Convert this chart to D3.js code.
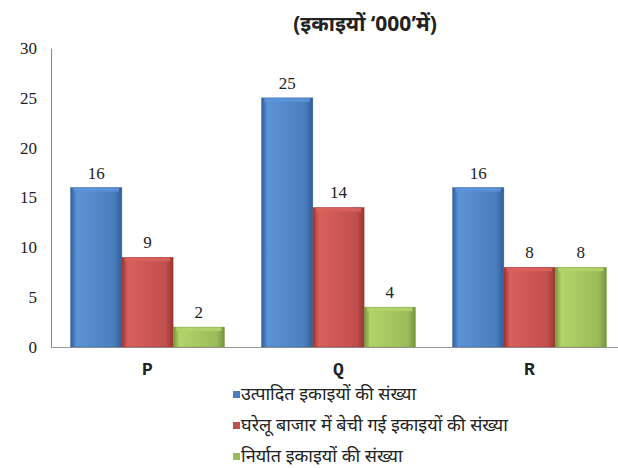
<!DOCTYPE html>
<html><head><meta charset="utf-8">
<script src="https://cdn.jsdelivr.net/npm/d3@7"></script>
<style>
body{margin:0;background:#fff}svg{display:block}
.serif{font-family:"Liberation Serif","DejaVu Serif",serif !important}
.mono{font-family:"Liberation Mono","DejaVu Sans Mono",monospace !important}
.deva{font-family:"Noto Sans","DejaVu Sans",sans-serif}
</style>
</head><body>
<svg id="c" width="618" height="468"></svg>
<script>
const categories = ["P", "Q", "R"];
const seriesNames = ["उत्पादित इकाइयों की संख्या", "घरेलू बाजार में बेची गई इकाइयों की संख्या", "निर्यात इकाइयों की संख्या"];
const produced = [16, 25, 16];
const domestic = [9, 14, 8];
const exported = [2, 4, 8];
const yTicks = [0, 5, 10, 15, 20, 25, 30];
const title = "(इकाइयों ‘000’में)";
const colors = ["#4a7ebb", "#c0504d", "#9bbb59"];
const dark = ["#2f5d99", "#9a3532", "#76923c"];
const light = ["#5b93d8", "#d9605c", "#b3d36a"];

const series = [produced, domestic, exported];
const svg = d3.select("#c");
const defs = svg.append("defs");
colors.forEach((c, i) => {
  const g = defs.append("linearGradient").attr("id", "g" + i).attr("x1", 0).attr("x2", 1).attr("y1", 0).attr("y2", 0);
  g.append("stop").attr("offset", "0%").attr("stop-color", dark[i]);
  g.append("stop").attr("offset", "12%").attr("stop-color", light[i]);
  g.append("stop").attr("offset", "85%").attr("stop-color", c);
  g.append("stop").attr("offset", "100%").attr("stop-color", dark[i]);
});

const y = d3.scaleLinear().domain([0, 30]).range([347, 48]);
const x = d3.scaleBand().domain(categories).range([52, 625]).paddingInner(0.194).paddingOuter(0.097);
const xs = d3.scaleBand().domain([0, 1, 2]).range([0, x.bandwidth()]);

// title
svg.append("text").attr("class", "deva").attr("x", 365).attr("y", 31).attr("text-anchor", "middle")
  .attr("font-weight", "bold").attr("font-size", 21).attr("fill", "#222").text(title);

// y axis
const ya = svg.append("g").attr("transform", "translate(51,0)")
  .call(d3.axisLeft(y).tickValues(yTicks).tickSize(0).tickPadding(14));
ya.attr("font-family", null).attr("font-size", null);
ya.select(".domain").attr("stroke", "#888");
ya.selectAll("text").attr("class", "serif").attr("font-size", 17).attr("fill", "#222");

// x axis
const xa = svg.append("g").attr("transform", "translate(0,347)")
  .call(d3.axisBottom(x).tickSize(0).tickPadding(15));
xa.attr("font-family", null).attr("font-size", null);
xa.select(".domain").attr("stroke", "#999").attr("d", "M51,0.5H618");
xa.selectAll("text").attr("class", "mono").attr("font-size", 18).attr("font-weight", "bold").attr("fill", "#222");

// bars
series.forEach((vals, si) => {
  const g = svg.append("g");
  vals.forEach((v, ci) => {
    const bx = x(categories[ci]) + xs(si), bw = xs.bandwidth(), by = y(v), bh = y(0) - y(v);
    g.append("rect").attr("x", bx).attr("y", by).attr("width", bw).attr("height", bh).attr("fill", `url(#g${si})`);
    g.append("rect").attr("x", bx + 3).attr("y", by).attr("width", bw - 6).attr("height", 4).attr("fill", light[si]).attr("opacity", 0.9);
    g.append("rect").attr("x", bx).attr("y", by).attr("width", bw).attr("height", bh).attr("fill", "none").attr("stroke", dark[si]).attr("stroke-width", 0.6).attr("opacity", 0.6);
    svg.append("text").attr("class", "serif").attr("x", bx + bw / 2).attr("y", by - 9).attr("text-anchor", "middle")
      .attr("font-size", 17).attr("fill", "#222").text(v);
  });
});

// legend
seriesNames.forEach((n, i) => {
  const ly = 396 + i * 31;
  svg.append("rect").attr("x", 233).attr("y", ly - 5).attr("width", 7).attr("height", 7).attr("fill", colors[i]);
  svg.append("text").attr("class", "deva").attr("x", 241).attr("y", ly + 4)
    .attr("font-size", 18).attr("fill", "#222").text(n);
});
</script>
</body></html>
